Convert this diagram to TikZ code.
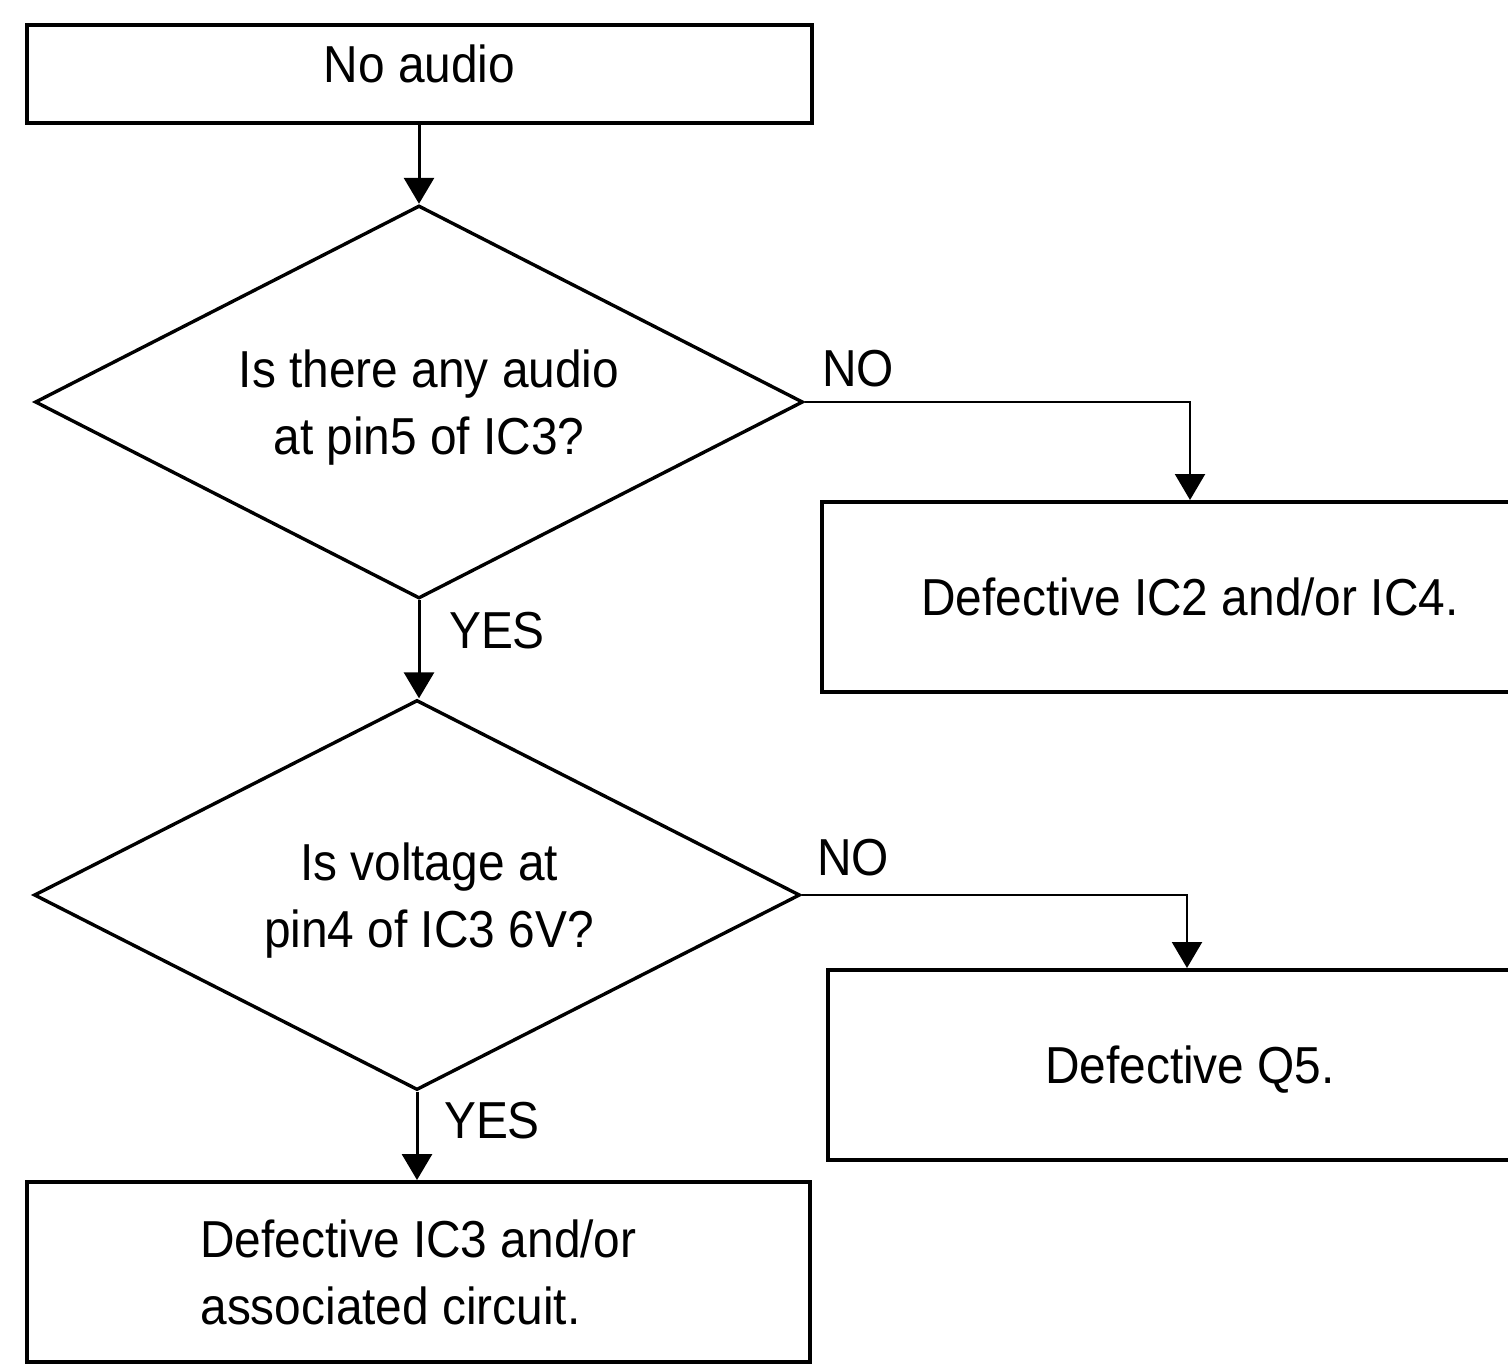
\documentclass[tikz,border=0pt]{standalone}
\usepackage{fontspec}
\setmainfont{Liberation Sans}[FakeStretch=0.92]
\usetikzlibrary{shapes.geometric,arrows.meta}
\begin{document}
\begin{tikzpicture}[x=0.5pt,y=-0.5pt,
  every node/.style={font=\fontsize{26pt}{33.5pt}\selectfont},
  box/.style={draw, line width=2pt, rectangle, inner sep=0pt},
  decision/.style={draw, line width=1.7pt, diamond, aspect=2, inner sep=0pt, align=center, text depth=0pt},
  flow/.style={line width=1.5pt, -{Triangle[width=15pt,length=13pt]}},
  side/.style={line width=1.1pt, -{Triangle[width=15pt,length=13pt]}},
  capc/.style={text height=18.7pt, text depth=0pt},
  lbl/.style={inner sep=0pt, capc}]
\useasboundingbox (0,0) rectangle (1508,1366);
\node[box, minimum width=392.5pt, minimum height=49pt, text height=18.7pt, text depth=10.2pt] (start) at (419.5,74) {No audio};
\node[decision, minimum width=384pt, minimum height=196.5pt] (q1) at (419,402) {\hspace*{10pt}Is there any audio\\\hspace*{10pt}at pin5 of IC3?};
\node[box, capc, minimum width=368pt, minimum height=95pt] (r1) at (1190,597) {Defective IC2 and/or IC4.};
\node[decision, minimum width=383pt, minimum height=195pt] (q2) at (417,895) {\hspace*{12pt}Is voltage at\\\hspace*{12pt}pin4 of IC3 6V?};
\node[box, capc, minimum width=362pt, minimum height=95pt] (r2) at (1190,1065) {Defective Q5.};
\node[box, minimum width=391.5pt, minimum height=90pt, align=left] (r3) at (418.5,1272) {Defective IC3 and/or\\associated circuit.};
\draw[flow] (start.south -| q1.north) -- (q1.north);
\draw[flow] (q1.south) -- (q1.south |- q2.north);
\draw[flow] (q2.south) -- (q2.south |- r3.north);
\draw[side] (q1.east) -| (r1.north);
\draw[side] (q2.east) -| (r2.north -| 1187,0);
\node[lbl] (no1) at (858,368) {NO};
\node[lbl] (yes1) at (497,630) {YES};
\node[lbl] (no2) at (853,857) {NO};
\node[lbl] (yes2) at (492,1120) {YES};
\end{tikzpicture}
\end{document}
